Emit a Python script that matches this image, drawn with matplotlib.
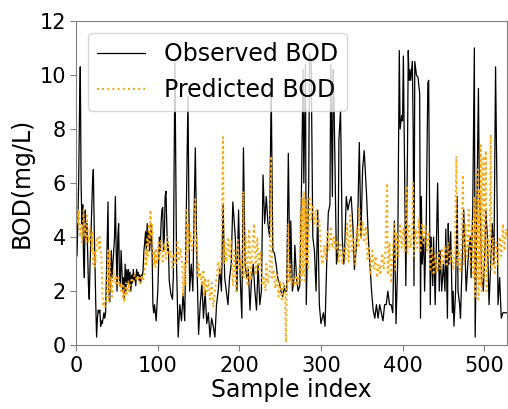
import matplotlib
matplotlib.use("Agg")
import matplotlib.pyplot as plt

# observed BOD (sample index, value)
obs_x = list(range(0, 115)) + [
    116, 118, 119, 121, 123, 125, 127, 129, 131, 133, 135, 137, 139, 141, 143, 144, 146, 148, 150,
    152, 154, 156, 158, 160, 162, 164, 166, 168, 170, 172, 174, 176, 178, 180, 182, 184, 186, 188,
    190, 192, 195, 197, 199, 201, 203, 205, 207, 209, 211, 213, 215, 217, 219, 221, 223, 225, 227,
    229, 231, 233, 235, 237, 239, 241, 243, 245, 247, 249, 251, 253, 255, 256, 258, 260, 262, 263,
    265, 267, 268, 270, 272, 274, 276, 278, 279, 281, 282, 283, 285, 286, 288, 290, 292, 294, 296,
    298, 300, 303, 305, 307, 309, 311, 312, 314, 315, 316, 318, 319, 321, 322, 324, 326, 328, 329,
    331, 333, 335, 337, 339, 341, 343, 345, 347, 349, 351, 353, 356, 358, 360, 362, 364, 366, 368,
    370, 372, 374, 376, 378, 380, 382, 384, 386, 388, 390, 392, 394, 396, 397, 399, 400, 401, 403,
    404, 406, 407, 408, 409, 410, 412, 413, 414, 415, 417, 419, 421, 422, 423, 424, 426, 427, 429,
    431, 432, 434, 435, 437, 438, 440, 441, 443, 445, 446, 448, 450, 452, 453, 455, 456, 457, 459,
    461, 462, 463, 465, 467, 468, 470, 471, 473, 475, 476, 478, 479, 481, 483, 484, 486, 488, 489,
    491, 493, 494, 496, 497, 499, 501, 502, 504, 506, 508, 510, 512, 514, 516, 517, 519, 521, 523,
    525, 527, 528]
obs_y = [
    4.0, 3.3, 4.5, 6.0, 8.5, 10.3, 6.0, 4.5, 5.2, 3.2, 2.5, 5.0, 4.0, 4.5, 3.5, 2.2, 1.7, 3.0, 4.0, 5.0,
    6.0, 6.5, 4.5, 3.0, 1.5, 0.3, 1.0, 1.3, 1.2, 1.3, 0.7, 0.9, 0.8, 1.0, 1.2, 1.0, 1.2, 2.5, 4.0, 5.3,
    2.0, 1.6, 2.5, 3.5, 2.5, 3.0, 3.5, 4.0, 5.5, 3.5, 2.0, 4.0, 4.5, 2.5, 2.2, 3.5, 2.8, 2.0, 2.5, 1.7,
    3.0, 2.0, 2.8, 2.3, 2.8, 2.3, 2.7, 2.0, 2.6, 2.3, 2.8, 2.4, 2.6, 2.2, 2.8, 2.5, 2.7, 2.4, 2.6, 2.3,
    2.6, 2.5, 2.8, 3.5, 3.8, 4.2, 3.5, 4.5, 3.8, 4.2, 3.5, 4.0, 4.5, 3.5, 1.5, 1.2, 1.5, 1.2, 0.9, 1.5,
    2.0, 3.0, 4.0, 3.5, 4.5, 5.0, 5.1, 3.5, 4.0, 5.5, 5.7, 4.5, 3.5, 3.7, 2.4,
    1.9, 1.7, 2.5, 10.5, 3.0, 0.3, 1.5, 0.9, 1.9, 0.9, 5.0, 9.2, 2.0, 3.0, 2.0, 4.0, 7.3, 3.0, 0.4,
    1.5, 2.3, 1.0, 2.0, 0.8, 1.2, 0.3, 1.0, 0.7, 0.3, 1.5, 2.0, 2.8, 2.0, 5.2, 2.5, 2.0, 1.5, 2.5,
    3.0, 5.3, 4.0, 2.0, 5.0, 2.5, 1.0, 7.3, 3.0, 2.5, 2.8, 1.3, 2.5, 3.0, 2.0, 1.3, 3.0, 1.5, 2.0,
    6.3, 4.5, 5.5, 4.5, 4.0, 9.5, 3.5, 3.4, 3.0, 2.5, 2.3, 2.0, 1.8, 2.2, 2.0, 2.0, 7.1, 2.5, 4.6,
    2.0, 2.5, 3.7, 2.5, 2.0, 2.2, 5.5, 10.2, 6.0, 10.4, 1.5, 3.0, 6.0, 10.8, 10.5, 4.0, 3.5, 2.0, 5.0,
    1.5, 0.8, 1.2, 0.7, 3.0, 4.9, 5.2, 10.4, 5.5, 10.2, 9.0, 5.0, 3.0, 3.5, 7.6, 8.7, 4.0, 3.0, 3.5,
    5.5, 5.0, 5.3, 5.5, 4.5, 2.8, 3.5, 4.5, 7.5, 4.0, 6.5, 7.2, 5.5, 4.0, 3.0, 2.0, 1.3, 1.0, 1.5,
    1.0, 1.5, 1.2, 0.9, 1.5, 1.5, 2.0, 1.5, 1.5, 1.2, 4.6, 0.8, 3.0, 10.9, 8.0, 8.5, 8.3, 10.7, 5.0,
    2.2, 7.0, 10.9, 9.8, 10.2, 9.8, 10.5, 8.0, 2.2, 10.5, 10.0, 9.9, 9.3, 1.0, 5.5, 3.0, 4.0, 2.0, 4.5,
    9.7, 9.8, 1.5, 4.0, 2.2, 4.0, 1.5, 3.0, 6.0, 2.0, 3.5, 2.0, 3.0, 2.0, 4.3, 1.0, 4.5, 3.0, 4.2,
    1.2, 2.0, 0.7, 2.0, 5.5, 2.0, 1.5, 1.0, 3.0, 5.0, 4.0, 2.0, 2.5, 3.5, 4.0, 2.5, 5.0, 11.0, 0.3,
    5.0, 9.5, 6.0, 4.0, 2.5, 2.0, 3.5, 5.0, 4.0, 1.5, 3.0, 4.5, 3.0, 10.3, 5.0, 1.5, 2.5, 1.0, 1.2,
    1.2, 1.2, 1.2]

# predicted BOD (sample index, value)
pred_x = list(range(0, 67)) + [
    68, 70, 72, 74, 76, 78, 80, 82, 84, 85, 86, 87, 88, 89, 90, 91, 92, 93, 94, 95, 96, 97, 98, 99,
    100, 101, 102, 104, 106, 108, 110, 112, 114, 116, 118, 120, 122, 124, 126, 128, 130, 131, 133,
    134, 135, 136, 137, 138, 140, 142, 144, 146, 147, 148, 149, 150, 151, 152, 154, 156, 157, 158,
    160, 162, 164, 166, 168, 170, 172, 174, 176, 178, 180, 181, 182, 184, 186, 188, 190, 192, 194,
    196, 198, 200, 202, 204, 205, 206, 208, 210, 212, 214, 216, 218, 220, 222, 224, 226, 228, 230,
    232, 233, 235, 237, 239, 240, 242, 244, 246, 248, 250, 252, 254, 256, 257, 258, 260, 261, 262,
    264, 266, 268, 270, 272, 274, 275, 276, 277, 278, 279, 280, 281, 282, 283, 284, 286, 288, 290,
    292, 294, 296, 298, 300, 302, 304, 306, 308, 310, 312, 314, 316, 318, 320, 322, 324, 326, 328,
    330, 332, 334, 336, 338, 340, 342, 344, 346, 347, 349, 351, 353, 355, 357, 359, 361, 363, 365,
    367, 369, 371, 373, 375, 377, 379, 381, 382, 384, 386, 388, 390, 391, 393, 395, 397, 399, 401,
    403, 405, 406, 408, 410, 412, 413, 414, 416, 418, 420, 422, 424, 426, 428, 430, 432, 434, 436,
    438, 440, 442, 444, 446, 448, 450, 452, 454, 456, 458, 460, 462, 464, 466, 467, 469, 471, 472,
    474, 475, 477, 479, 481, 483, 485, 487, 488, 489, 490, 491, 492, 493, 494, 495, 496, 497, 498,
    499, 500, 501, 502, 503, 504, 506, 507, 508, 509, 511, 513, 515, 517, 519, 521, 523, 525, 527,
    528]
pred_y = [
    6.0, 5.5, 4.5, 5.0, 4.3, 4.0, 4.5, 3.8, 4.2, 5.0, 4.0, 4.5, 3.8, 4.8, 4.2, 3.8, 4.0, 4.3, 4.0, 3.5,
    4.2, 3.0, 3.5, 2.9, 3.2, 4.0, 4.0, 3.8, 3.5, 4.0, 3.5, 3.2, 2.0, 1.5, 1.6, 1.4, 1.5, 1.8, 2.5, 3.5,
    1.6, 3.5, 2.0, 2.5, 1.8, 2.5, 2.8, 2.5, 2.3, 2.6, 2.2, 2.4, 2.5, 2.2, 2.3, 2.0, 2.3, 1.8, 2.2, 1.6,
    2.0, 2.3, 1.9, 2.1, 2.4, 2.0, 2.2,
    2.5, 2.3, 2.7, 2.4, 2.6, 2.3, 2.6, 2.4, 2.7, 3.5, 3.0, 4.0, 3.3, 4.5, 3.8, 5.0, 4.0, 4.5, 3.5, 3.0,
    3.5, 2.9, 3.6, 3.0, 3.4, 3.8, 3.2, 3.9, 3.1, 3.8, 3.2, 4.0, 3.3, 3.5, 2.8, 3.4, 3.0, 3.8, 3.2, 3.6,
    3.0, 1.8, 3.0, 2.2, 5.0, 3.0, 4.5, 3.5, 4.2, 3.5, 4.0, 5.4, 3.5, 4.0, 2.5, 3.0, 2.5, 2.7, 2.2, 2.8,
    1.8, 2.5, 2.0, 2.4, 1.7, 2.3, 1.4, 2.0, 2.5, 3.1, 2.6, 3.1, 7.7, 3.0, 3.8, 3.1, 4.0, 3.2, 3.9, 2.2,
    3.5, 2.0, 3.9, 2.8, 3.2, 2.5, 5.7, 2.5, 4.0, 2.2, 4.3, 2.4, 3.5, 4.5, 2.6, 4.0, 2.8, 3.5, 2.2, 2.5,
    2.0, 3.0, 2.3, 2.6, 7.0, 2.5, 2.8, 2.1, 2.6, 1.8, 2.4, 1.7, 2.3, 1.9, 0.1, 2.0, 4.5, 2.3, 3.0, 2.2,
    2.5, 2.2, 2.6, 2.2, 3.0, 5.0, 2.4, 5.5, 2.6, 5.7, 2.4, 5.4, 3.0, 5.0, 2.8, 5.5, 4.6, 5.2, 4.5, 5.0,
    4.4, 4.7, 3.4, 3.0, 3.7, 3.2, 4.2, 3.5, 4.4, 3.6, 4.0, 3.5, 3.9, 3.1, 3.8, 3.0, 3.6, 3.2, 4.5, 3.1,
    4.8, 3.4, 4.0, 3.0, 4.4, 3.6, 5.1, 3.9, 4.6, 3.8, 4.4, 3.2, 3.6, 2.6, 3.5, 2.8, 3.3, 2.5, 3.0, 2.6,
    3.4, 2.8, 3.6, 6.0, 2.6, 3.8, 2.3, 3.5, 4.5, 2.8, 4.2, 3.3, 4.5, 3.6, 4.3, 3.5, 5.9, 3.4, 4.5, 3.6,
    4.4, 6.0, 3.3, 4.3, 3.6, 4.7, 3.5, 4.5, 3.7, 4.4, 3.5, 4.2, 2.8, 3.6, 2.6, 3.4, 2.7, 3.5, 2.8, 3.6,
    3.0, 3.7, 2.9, 3.8, 3.0, 3.5, 2.8, 3.6, 7.0, 2.9, 3.5, 2.7, 3.6, 6.3, 3.0, 4.5, 3.2, 5.0, 2.9, 4.6,
    2.5, 5.5, 1.8, 5.0, 2.5, 6.5, 1.7, 5.8, 2.2, 7.4, 2.0, 5.0, 7.0, 2.5, 4.5, 7.2, 2.0, 4.0, 3.3, 4.3,
    7.8, 2.8, 4.0, 2.6, 3.8, 3.0, 4.0, 3.3, 4.5, 3.5, 4.3, 4.0]

fig = plt.figure(figsize=(5.08, 4.09), dpi=100)
ax = fig.add_axes([0.150, 0.156, 0.848, 0.793])

ax.plot(obs_x, obs_y, color='black', linewidth=0.9, label='Observed BOD')
ax.plot(pred_x, pred_y, color='orange', linestyle=':', linewidth=1.4, label='Predicted BOD')

ax.set_xlim(0, 528)
ax.set_ylim(0, 12)
ax.set_xticks([0, 100, 200, 300, 400, 500])
ax.set_yticks([0, 2, 4, 6, 8, 10, 12])
ax.set_xlabel('Sample index', fontsize=17, labelpad=2)
ax.set_ylabel('BOD(mg/L)', fontsize=17, labelpad=4)
ax.tick_params(labelsize=15, color='gray', length=4)
for s in ax.spines.values():
    s.set_color('gray')

ax.legend(loc='upper left', fontsize=17, handlelength=2.0)

fig.savefig('out.png', dpi=100)
